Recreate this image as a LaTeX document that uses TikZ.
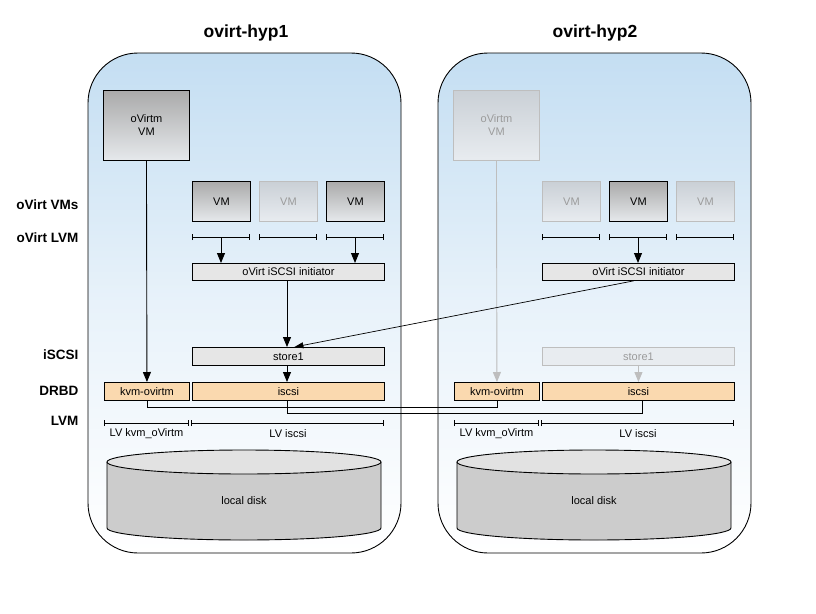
\documentclass[tikz,border=0pt]{standalone}
\usepackage{fontspec}
\setmainfont{Liberation Sans}
\usetikzlibrary{arrows.meta}
\definecolor{hyptop}{RGB}{196,222,242}
\definecolor{vmtop}{RGB}{170,170,170}
\definecolor{vmbot}{RGB}{230,233,236}
\definecolor{fadetop}{RGB}{202,208,214}
\definecolor{fadebot}{RGB}{232,236,240}
\definecolor{fadeline}{RGB}{190,190,190}
\definecolor{fadetext}{RGB}{155,155,155}
\definecolor{lightbox}{RGB}{230,230,230}
\definecolor{drbdfill}{RGB}{250,217,175}
\definecolor{diskbody}{RGB}{204,204,204}
\definecolor{disktop}{RGB}{226,226,226}
\tikzset{
  x=1pt, y=-1pt,
  boxtext/.style={font=\fontsize{11}{13}\selectfont},
  vmbox/.style={boxtext, draw=black, line width=0.9pt, top color=vmtop, bottom color=vmbot, inner sep=0pt, anchor=north west, align=center},
  fadebox/.style={boxtext, draw=fadeline, line width=0.9pt, top color=fadetop, bottom color=fadebot, text=fadetext, inner sep=0pt, anchor=north west, align=center},
  layerbox/.style={boxtext, draw=black, line width=0.9pt, fill=lightbox, inner sep=0pt, anchor=north west},
  fadelayer/.style={boxtext, draw=fadeline, line width=0.9pt, fill=fadebot, text=fadetext, inner sep=0pt, anchor=north west},
  drbdbox/.style={boxtext, draw=black, line width=0.9pt, fill=drbdfill, inner sep=0pt, anchor=north west},
  flow/.style={line width=0.9pt, -{Triangle[length=10pt,width=8pt]}},
  fadeflow/.style={flow, draw=fadeline, fill=fadeline},
  lvbar/.style={line width=0.9pt, {Bar[width=6pt]}-{Bar[width=6pt]}},
  sidelabel/.style={font=\fontsize{13.5}{15}\selectfont\bfseries, anchor=east},
  titlelabel/.style={font=\fontsize{17.5}{20}\selectfont\bfseries},
  hyp/.style={line width=0.9pt, rounded corners=50pt},
  link/.style={line width=0.9pt}
}
\begin{document}
\begin{tikzpicture}
\useasboundingbox (0,0) rectangle (816,613);
\fill[white] (0,0) rectangle (816,613);

% hypervisor frames
\shade[hyp, top color=hyptop, bottom color=white, middle color={rgb,255:red,232;green,242;blue,250}] (88,53) rectangle (401,553);
\draw[hyp] (88,53) rectangle (401,553);
\shade[hyp, top color=hyptop, bottom color=white, middle color={rgb,255:red,232;green,242;blue,250}] (438,53) rectangle (751,553);
\draw[hyp] (438,53) rectangle (751,553);

% titles
\node[titlelabel] (t1) at (246,33) {ovirt-hyp1};
\node[titlelabel] (t2) at (595,33) {ovirt-hyp2};

% side labels
\node[sidelabel] (l1) at (82,205) {oVirt VMs};
\node[sidelabel] (l2) at (82,238) {oVirt LVM};
\node[sidelabel] (l3) at (82,355) {iSCSI};
\node[sidelabel] (l4) at (82,391) {DRBD};
\node[sidelabel] (l5) at (82,421) {LVM};

% ---------- hyp1 ----------
\node[vmbox, minimum width=86pt, minimum height=70pt] (ovm1) at (103,90) {oVirtm\\VM};
\node[vmbox, minimum width=58pt, minimum height=40pt] (vm1a) at (192,181) {VM};
\node[fadebox, minimum width=58pt, minimum height=40pt] (vm1b) at (259,181) {VM};
\node[vmbox, minimum width=58pt, minimum height=40pt] (vm1c) at (326,181) {VM};
\draw[lvbar] (192,237) -- (250,237);
\draw[lvbar] (259,237) -- (317,237);
\draw[lvbar] (326,237) -- (384,237);
\coordinate (lv1a) at (221,237);
\coordinate (lv1c) at (355,237);
\node[layerbox, minimum width=192pt, minimum height=17pt] (init1) at (192,263) {oVirt iSCSI initiator};
\node[layerbox, minimum width=192pt, minimum height=18pt] (store1a) at (192,347) {store1};
\node[drbdbox, minimum width=85pt, minimum height=18pt] (kvm1) at (104,382) {kvm-ovirtm};
\node[drbdbox, minimum width=192pt, minimum height=18pt] (iscsi1) at (192,382) {iscsi};
\draw[lvbar] (104,423) -- (189,423);
\draw[lvbar] (191,423) -- (384,423);
\node[boxtext] (lvk1) at (146.5,434) {LV kvm\_oVirtm};
\node[boxtext] (lvi1) at (288,434) {LV iscsi};
% disk
\fill[diskbody] (107,462) -- (107,528) arc[start angle=180, end angle=360, x radius=137, y radius=-12] -- (381,462) -- cycle;
\draw[line width=0.9pt] (107,462) -- (107,528) arc[start angle=180, end angle=360, x radius=137, y radius=-12] -- (381,462);
\draw[line width=0.9pt, fill=disktop] (244,462) ellipse[x radius=137, y radius=12];
\node[boxtext] (disk1) at (244,501) {local disk};

\draw[flow] (ovm1.south) -- (kvm1.north);
\draw[flow] (lv1a) -- (lv1a |- init1.north);
\draw[flow] (lv1c) -- (lv1c |- init1.north);
\draw[flow] (init1.south -| 287,0) -- (store1a.north -| 287,0);
\draw[flow] (store1a.south -| 287,0) -- (iscsi1.north -| 287,0);

% ---------- hyp2 ----------
\node[fadebox, minimum width=86pt, minimum height=70pt] (ovm2) at (453,90) {oVirtm\\VM};
\node[fadebox, minimum width=58pt, minimum height=40pt] (vm2a) at (542,181) {VM};
\node[vmbox, minimum width=58pt, minimum height=40pt] (vm2b) at (609,181) {VM};
\node[fadebox, minimum width=58pt, minimum height=40pt] (vm2c) at (676,181) {VM};
\draw[lvbar] (542,237) -- (600,237);
\draw[lvbar] (609,237) -- (667,237);
\draw[lvbar] (676,237) -- (734,237);
\coordinate (lv2b) at (638,237);
\node[layerbox, minimum width=192pt, minimum height=17pt] (init2) at (542,263) {oVirt iSCSI initiator};
\node[fadelayer, minimum width=192pt, minimum height=18pt] (store2) at (542,347) {store1};
\node[drbdbox, minimum width=85pt, minimum height=18pt] (kvm2) at (454,382) {kvm-ovirtm};
\node[drbdbox, minimum width=192pt, minimum height=18pt] (iscsi2) at (542,382) {iscsi};
\draw[lvbar] (454,423) -- (539,423);
\draw[lvbar] (541,423) -- (734,423);
\node[boxtext] (lvk2) at (496.5,434) {LV kvm\_oVirtm};
\node[boxtext] (lvi2) at (638,434) {LV iscsi};
% disk
\fill[diskbody] (457,462) -- (457,528) arc[start angle=180, end angle=360, x radius=137, y radius=-12] -- (731,462) -- cycle;
\draw[line width=0.9pt] (457,462) -- (457,528) arc[start angle=180, end angle=360, x radius=137, y radius=-12] -- (731,462);
\draw[line width=0.9pt, fill=disktop] (594,462) ellipse[x radius=137, y radius=12];
\node[boxtext] (disk2) at (594,501) {local disk};

\draw[fadeflow] (ovm2.south) -- (kvm2.north);
\draw[flow] (lv2b) -- (lv2b |- init2.north);
\draw[fadeflow] (store2.south) -- (iscsi2.north);

% cross-host links
\draw[flow, line width=0.7pt, -{Triangle[length=9pt,width=6pt]}] ([xshift=-5pt]init2.south) -- ([xshift=6pt]store1a.north);
\draw[link] (kvm1.south) -- ++(0,7) -| (kvm2.south);
\draw[link] (iscsi1.south -| 287,0) -- ++(0,13) -| (iscsi2.south -| 642,0);
\end{tikzpicture}
\end{document}
